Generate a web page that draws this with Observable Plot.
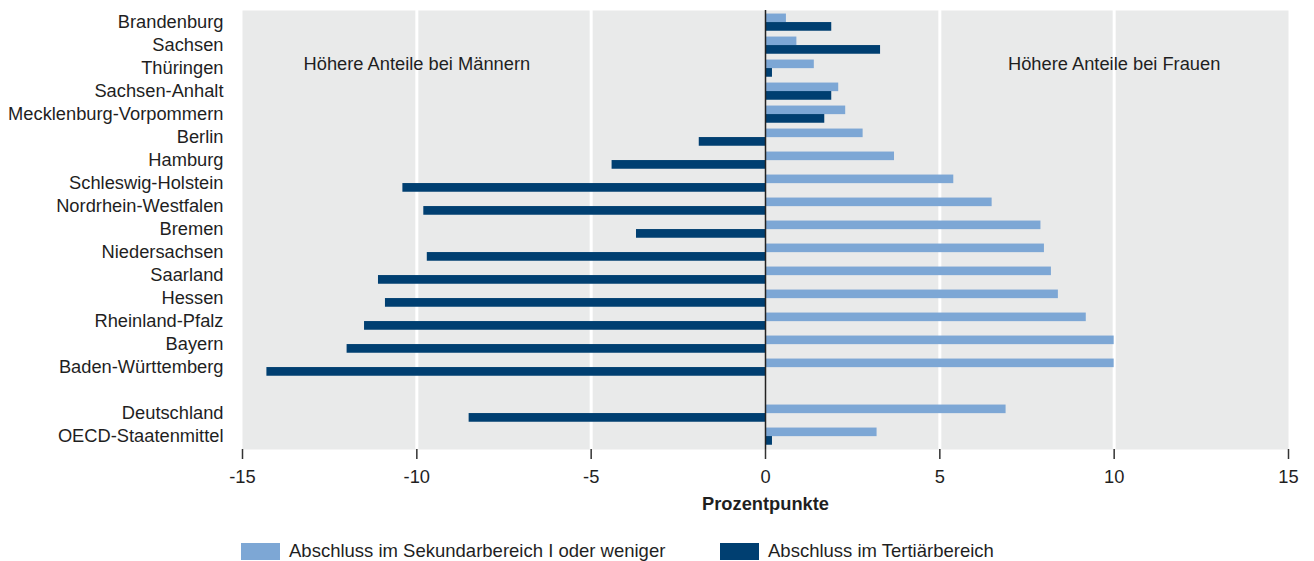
<!DOCTYPE html>
<html>
<head>
<meta charset="utf-8">
<script src="https://cdn.jsdelivr.net/npm/d3@7"></script>
<script src="https://cdn.jsdelivr.net/npm/@observablehq/plot@0.6"></script>
<style>
  html, body { margin: 0; padding: 0; background: #fff; }
  body { font-family: "Liberation Sans", Arial, sans-serif; color: #1f1f1f; width: 1314px; }
  #legend { position: relative; height: 39px; }
  .item { position: absolute; top: 19px; height: 20px; line-height: 20px; display: flex; align-items: center; font-size: 18.5px; }
  .sw { width: 39px; height: 17px; margin-right: 9px; }
</style>
</head>
<body>
<div id="chart"></div>
<div id="legend"></div>
<script>
const regions = ["Brandenburg","Sachsen","Thüringen","Sachsen-Anhalt","Mecklenburg-Vorpommern","Berlin","Hamburg","Schleswig-Holstein","Nordrhein-Westfalen","Bremen","Niedersachsen","Saarland","Hessen","Rheinland-Pfalz","Bayern","Baden-Württemberg","Deutschland","OECD-Staatenmittel"];
const sekundarI = [0.6,0.9,1.4,2.1,2.3,2.8,3.7,5.4,6.5,7.9,8.0,8.2,8.4,9.2,10.0,10.0,6.9,3.2];
const tertiaer = [1.9,3.3,0.2,1.9,1.7,-1.9,-4.4,-10.4,-9.8,-3.7,-9.7,-11.1,-10.9,-11.5,-12.0,-14.3,-8.5,0.2];
const seriesNames = ["Abschluss im Sekundarbereich I oder weniger","Abschluss im Tertiärbereich"];
const seriesColors = ["#7da7d5","#003f71"];
const xTicks = [-15,-10,-5,0,5,10,15];
const gridTicks = [-10,-5,5,10];
const annotations = [{x: -10, label: "Höhere Anteile bei Männern"}, {x: 10, label: "Höhere Anteile bei Frauen"}];

const yDomain = [...regions.slice(0,16), "", ...regions.slice(16)];
const rows = regions.map((r,i) => ({region: r, sek: sekundarI[i], tert: tertiaer[i]}));

const width = 1314, height = 522, mTop = 10, mBottom = 73;
const bw = (height - mTop - mBottom) / yDomain.length;
const fs = 18.3;

const chart = Plot.plot({
  width, height,
  marginLeft: 242, marginRight: 26, marginTop: mTop, marginBottom: mBottom,
  style: {fontFamily: '"Liberation Sans", Arial, sans-serif', fontSize: fs + "px", color: "#1f1f1f", background: "#fff"},
  x: {domain: [-15, 15]},
  y: {domain: yDomain, padding: 0},
  marks: [
    Plot.frame({fill: "#e9eaea", stroke: null}),
    Plot.ruleX(gridTicks, {stroke: "#fff", strokeWidth: 3}),
    Plot.barX(rows, {x: "sek", y: "region", fill: seriesColors[0], insetTop: bw/2 - 9, insetBottom: bw/2 + 0.3}),
    Plot.barX(rows, {x: "tert", y: "region", fill: seriesColors[1], insetTop: bw/2 - 0.5, insetBottom: bw/2 - 8.3}),
    Plot.ruleX([0], {stroke: "#222", strokeWidth: 1.5}),
    Plot.text(annotations, {x: "x", y: () => "Thüringen", text: "label", dy: -5, fill: "#1f1f1f", fontSize: fs}),
    Plot.axisY({tickSize: 0, tickPadding: 19, dy: -0.5, label: null, tickFormat: d => d, fontSize: fs}),
    Plot.axisX({ticks: xTicks, tickSize: 10, tickPadding: 10, tickFormat: d => d < 0 ? "-" + Math.abs(d) : String(d), label: null, stroke: "#333", strokeWidth: 1.5, fontSize: fs}),
    Plot.text(["Prozentpunkte"], {frameAnchor: "bottom", text: d => d, dy: 60, fontWeight: "bold", fontSize: fs, fill: "#1f1f1f"})
  ]
});
document.getElementById("chart").appendChild(chart);

const legend = document.getElementById("legend");
const lefts = [241, 720];
seriesNames.forEach((name, i) => {
  const it = document.createElement("div");
  it.className = "item";
  it.style.left = lefts[i] + "px";
  const sw = document.createElement("div");
  sw.className = "sw";
  sw.style.background = seriesColors[i];
  const t = document.createElement("span");
  t.textContent = name;
  it.appendChild(sw); it.appendChild(t);
  legend.appendChild(it);
});
</script>
</body>
</html>
